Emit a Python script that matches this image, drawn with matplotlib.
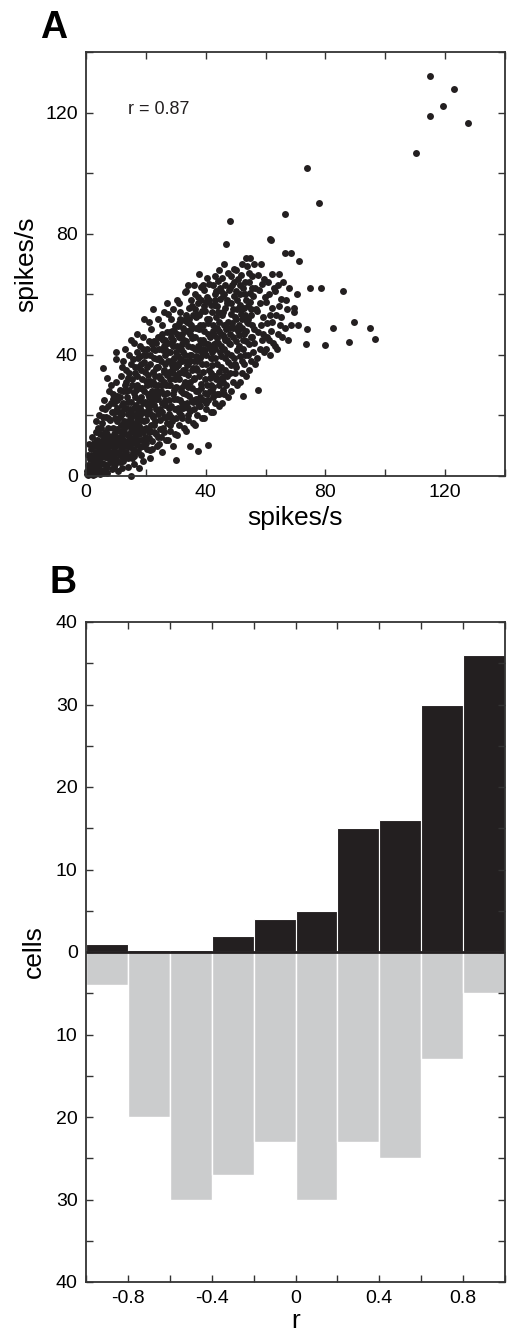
import matplotlib
matplotlib.use("Agg")
import matplotlib.pyplot as plt
from matplotlib.ticker import MultipleLocator, FuncFormatter

plt.rcParams['font.family'] = ['Liberation Sans', 'DejaVu Sans']

# Panel A: firing rate pairs (spikes/s)
cloud_pts = [
    (0.5, 0.5), (1, 2), (1.5, 0.8), (0.8, 3.5), (2, 1.5), (2.5, 4), (1.2, 5.5), (2.8, 2.5), (0.6, 7), (2.2, 6.8),
    (3, 0.6), (1.8, 9), (3.2, 8), (0.9, 10.5), (2.6, 11),
    (3.5, 1.2), (4, 3), (4.5, 5.5), (3.8, 7), (5, 2), (5.5, 4.2), (4.2, 9.5), (5.8, 7.5), (3.6, 12), (5, 11.5),
    (4.6, 14), (5.9, 13), (3.9, 16), (5.3, 17.5), (4.4, 20), (5.8, 35.7), (5.6, 19.5), (4.8, 0.5), (3.3, 14.5), (5.2, 22.5),
    (6.2, 1.5), (7, 3.5), (7.5, 6), (6.5, 8.5), (8.2, 4.5), (8.8, 8), (6.8, 11.5), (7.8, 10), (8.5, 13), (6.3, 14.5),
    (7.2, 16), (8, 18.5), (6.6, 19.5), (8.7, 21), (7.4, 23), (6.1, 25), (8.9, 25.5), (7.7, 28), (8.3, 30), (6.9, 1),
    (8.6, 2.2), (7.1, 32.5),
    (9.3, 3), (10, 5.5), (10.8, 8), (11.5, 4.5), (9.6, 10), (11, 12.5), (11.8, 9.5), (9.2, 14), (10.4, 15.5), (11.6, 17),
    (9.8, 19), (10.9, 21), (11.9, 23.5), (9.4, 24), (10.5, 26.5), (11.3, 28.5), (9.9, 31), (11.7, 33), (10, 40.8), (10, 38.5),
    (12, 36), (9.5, 7), (10.6, 1.5), (11.2, 19.5), (10.2, 22.5), (9.1, 27),
    (12.4, 5), (13, 7.5), (13.8, 10), (14.6, 6.5), (12.2, 12), (13.3, 14), (14.3, 16.5), (12.7, 18), (13.9, 20.5), (14.8, 22),
    (12.5, 24), (13.6, 26), (14.5, 28.5), (12.9, 30), (14.1, 32.5), (13.2, 35), (14.9, 37), (12.3, 38), (15, 0), (14, 3),
    (13.5, 22.5), (12.8, 15.5), (14.7, 12.5), (13.4, 28), (12.1, 9), (14.4, 40),
    (15.3, 6), (16, 9), (16.8, 12), (17.5, 8), (15.6, 14.5), (16.4, 17), (17.3, 19.5), (15.2, 21), (16.7, 23.5), (17.7, 25),
    (15.9, 27.5), (17, 30), (15.4, 32), (16.3, 34), (17.4, 36), (15.8, 38.5), (16.9, 41), (17.9, 43), (16.1, 4), (17.8, 14),
    (15.5, 11), (16.6, 28.5), (17.2, 33), (15.1, 24.5), (16.5, 20), (17.6, 2.5), (16.2, 44),
    (18.3, 7), (19, 10), (19.8, 13), (20.5, 9), (18.6, 15.5), (19.4, 18), (20.3, 20.5), (18.2, 22.5), (19.7, 24.5), (20.8, 27),
    (18.8, 29), (19.9, 31.5), (20.6, 33.5), (18.4, 35), (19.3, 37.5), (20.2, 40), (18.9, 42), (20.9, 44.5), (19.4, 52), (19.2, 5),
    (20.1, 16), (18.5, 26), (20.7, 23), (19.6, 34.5), (18.1, 39.5), (21, 14.5), (20.4, 30),
    (21.3, 8.5), (22, 11.5), (22.8, 14.5), (23.6, 10), (21.6, 17), (22.5, 19.5), (23.3, 22), (21.2, 24), (22.2, 26.5), (23.8, 28),
    (21.8, 30.5), (22.9, 33), (23.5, 35.5), (21.4, 37), (22.6, 39), (23.2, 41.5), (21.9, 43.5), (23.9, 46), (22.3, 55), (21.5, 6),
    (23, 18), (22.4, 31), (23.7, 38.5), (21.1, 21), (22.7, 44.5), (23.4, 25.5), (21.7, 48.5),
    (24.3, 10.5), (25, 13), (25.8, 16), (26.6, 12), (24.6, 18.5), (25.5, 21), (26.3, 23.5), (24.2, 25.5), (25.2, 28), (26.8, 30),
    (24.8, 32.5), (25.9, 34.5), (26.5, 37), (24.4, 39), (25.6, 41.5), (26.2, 43), (24.9, 45.5), (26.9, 47.5), (25.3, 50), (24.1, 36),
    (26, 27), (25.4, 8), (26.7, 19.5), (24.7, 22), (25.7, 45), (26.4, 40),
    (27.3, 12), (28, 15), (28.8, 18), (29.6, 14), (27.6, 20.5), (28.5, 23), (29.3, 25.5), (27.2, 27.5), (28.2, 30), (29.8, 32),
    (27.8, 34.5), (28.9, 36.5), (29.5, 39), (27.4, 41), (28.6, 43.5), (29.2, 45), (27.9, 47.5), (29.9, 49.5), (28.3, 52), (27.1, 57),
    (30, 5.4), (29, 10), (28.4, 38), (27.7, 25), (29.4, 28.5), (28.7, 48), (27.5, 53.5),
    (30.3, 13.5), (31, 17), (31.8, 20), (32.6, 16), (30.6, 22.5), (31.5, 25), (32.3, 27.5), (30.2, 29.5), (31.2, 32), (32.8, 34),
    (30.8, 36.5), (31.9, 38.5), (32.5, 41), (30.4, 43), (31.6, 45.5), (32.2, 47), (30.9, 49.5), (32.9, 51.5), (31.3, 54), (33, 60.8),
    (30.5, 58), (31.7, 29), (32.1, 43.5), (30.7, 39.5), (32.4, 22.5), (31.1, 50.5),
    (33.3, 15), (34, 18.5), (34.8, 21.5), (35.6, 17.5), (33.6, 24), (34.5, 26.5), (35.3, 29), (33.2, 31), (34.2, 33.5), (35.8, 35.5),
    (33.8, 38), (34.9, 40), (35.5, 42.5), (33.4, 44.5), (34.6, 47), (35.2, 48.5), (33.9, 51), (35.9, 53), (34.3, 55.5), (34.6, 9.8),
    (35, 58), (33.5, 61), (35.4, 45.5), (34.1, 29.5), (33.7, 36.5), (35.7, 24.5), (34.4, 50.5),
    (36.3, 17), (37, 20), (37.8, 23), (38.6, 19), (36.6, 25.5), (37.5, 28), (38.3, 30.5), (36.2, 32.5), (37.2, 35), (38.8, 37),
    (36.8, 39.5), (37.9, 41.5), (38.5, 44), (36.4, 46), (37.6, 48.5), (38.2, 50), (36.9, 52.5), (38.9, 54.5), (37.3, 57), (37.8, 66.6),
    (37.3, 8.2), (36.5, 60), (38.4, 62.5), (37.4, 43), (36.7, 35.5), (38.1, 26), (37.1, 53.5),
    (39.3, 19), (40, 22), (40.8, 25), (41.6, 21), (39.6, 27.5), (40.5, 30), (41.3, 32.5), (39.2, 34.5), (40.2, 37), (41.8, 39),
    (39.8, 41.5), (40.9, 43.5), (41.5, 46), (39.4, 48), (40.6, 50.5), (41.2, 52), (39.9, 54.5), (41.9, 56.5), (40.3, 59), (39.5, 61.5),
    (41, 63.5), (40.7, 10.4), (40.4, 65.5), (39.1, 45), (41.4, 28), (40.1, 57.5), (41.7, 34),
    (42.3, 21), (43, 24), (43.8, 27), (44.6, 23), (42.6, 29.5), (43.5, 32), (44.3, 34.5), (42.2, 36.5), (43.2, 39), (44.8, 41),
    (42.8, 43.5), (43.9, 45.5), (44.5, 48), (42.4, 50), (43.6, 52.5), (44.2, 54), (42.9, 56.5), (44.9, 58.5), (43.3, 61), (42.5, 63),
    (44, 64.5), (43.7, 49), (42.1, 41), (44.4, 30), (43.1, 58), (42.7, 46.5),
    (45.3, 24), (46, 27), (46.8, 30), (47.6, 26), (45.6, 32.5), (46.5, 35), (47.3, 37.5), (45.2, 39.5), (46.2, 42), (47.8, 44),
    (45.8, 46.5), (46.9, 48.5), (47.5, 51), (45.4, 53), (46.6, 55.5), (47.2, 57), (45.9, 59.5), (47.9, 61.5), (46.3, 63), (45.5, 65.5),
    (46.8, 76.7), (47.4, 67), (46.1, 50), (47, 40.5), (45.7, 28.5),
    (48.3, 28), (49, 31), (49.8, 34), (50.6, 30), (48.6, 36.5), (49.5, 39), (50.3, 41.5), (48.2, 43.5), (49.2, 46), (50.8, 48),
    (48.8, 50.5), (49.9, 52.5), (50.5, 55), (48.4, 57), (49.6, 59.5), (50.2, 61), (48.9, 63), (50.9, 65), (48.1, 84.1), (49.3, 68.5),
    (50, 44.5), (48.5, 53.5), (49.7, 37),
    (51.3, 31), (52, 34), (52.8, 37), (53.6, 33), (51.6, 39.5), (52.5, 42), (53.3, 44.5), (51.2, 46.5), (52.2, 49), (53.8, 51),
    (51.8, 53.5), (52.9, 55.5), (53.5, 58), (51.4, 60), (52.6, 62), (53.2, 64), (51.9, 66.5), (52.4, 26.5), (53.9, 69.5), (52.7, 47),
    (51.5, 56.5), (53, 40),
    (54.3, 35), (55, 38), (55.8, 41), (56.6, 37), (54.6, 43.5), (55.5, 46), (56.3, 48.5), (54.2, 50.5), (55.2, 53), (56.8, 55),
    (54.8, 57.5), (55.9, 59.5), (56.5, 62), (54.4, 64), (55.6, 66), (56.2, 70), (54.9, 72), (55.3, 50), (56, 44), (54.7, 60.5),
    (57.3, 39), (58, 42), (58.8, 45), (59.6, 41), (57.6, 47.5), (58.5, 50), (59.3, 52.5), (57.2, 54.5), (58.2, 57), (59.8, 59),
    (57.8, 61.5), (58.9, 63.5), (59.5, 65), (57.6, 28.5), (58.4, 70), (57.5, 66.5), (59.1, 47),
    (60.3, 42), (61, 45), (61.8, 48), (62.6, 44), (60.6, 50.5), (61.5, 53), (62.3, 55.5), (60.2, 57.5), (61.2, 60), (62.8, 62),
    (60.8, 64), (62, 66.6), (60.5, 46), (62.2, 51), (61.6, 40),
    (63.3, 43), (64, 47), (64.8, 50), (65.6, 46), (63.6, 53), (64.5, 56), (65.3, 58.5), (63.2, 61), (64.2, 63), (65.8, 64),
    (64.4, 66.6), (63.8, 42), (65, 52.5),
    (67, 55), (68.6, 49.8), (69.4, 55.6), (69.6, 54), (67.5, 45), (66.8, 58), (67.8, 62), (66.5, 49),
]

core_pts = [
    (1.5, 3), (2.4, 0.3), (3.4, 4.5), (4.2, 1.8), (5.2, 6.5), (6, 4), (6.9, 9), (7.6, 13), (8.4, 10.5), (9, 16),
    (9.7, 12.5), (10.3, 18), (11, 15), (11.4, 7), (12, 20.5), (12.6, 22), (13.1, 17), (13.7, 11.5), (14.2, 24.5), (14.9, 19),
    (15.4, 17.5), (15.9, 22.5), (16.4, 26), (16.9, 15), (17.4, 21.5), (17.9, 29), (18.3, 18.5), (18.7, 32), (19.1, 24), (19.5, 28),
    (20, 21), (20.5, 36), (21, 26), (21.4, 31.5), (21.9, 28), (22.3, 34.5), (22.8, 23.5), (23.2, 30), (23.7, 36), (24, 27),
    (24.5, 33), (25, 38), (25.5, 30), (26, 35), (26.4, 42), (26.9, 33.5), (27.3, 38), (27.8, 30), (28.2, 41), (28.7, 35),
    (29.1, 43), (29.6, 37), (30, 41), (30.5, 33), (31, 46), (31.4, 38), (31.9, 42), (32.3, 35), (32.7, 45), (33.1, 40),
    (33.6, 48), (34, 43), (34.5, 38), (35, 50), (35.4, 35), (35.9, 46), (36.3, 42), (36.8, 49), (37.2, 38), (37.7, 53),
    (38.1, 45), (38.6, 40), (39, 50), (39.4, 56), (39.9, 44), (40.3, 52), (40.8, 47), (41.2, 58), (41.7, 42), (42.1, 54),
    (42.6, 48), (43, 60), (43.4, 44), (43.9, 56), (44.3, 51), (44.8, 62), (45.2, 47), (45.7, 54), (46.1, 60), (46.6, 45),
    (47, 58), (47.5, 49), (48, 62), (48.5, 40), (49, 55), (49.5, 64), (50, 49), (50.5, 58), (51, 43), (51.5, 63),
    (52, 52), (52.5, 45), (53, 60), (53.5, 48), (54, 56), (54.5, 67), (55, 46), (55.5, 62),
    (0.3, 1.5), (0.7, 0.2), (1.1, 1), (1.6, 2.2), (2, 3.2), (2.3, 5.2), (2.9, 6), (3.3, 3), (3.7, 2), (4.1, 5),
    (4.6, 3.8), (4.9, 8.2), (5.4, 9), (5.7, 1), (6.3, 6.2), (6.7, 2.8), (7.3, 7.5), (7.9, 5.5), (8.5, 6.5), (9.2, 8.5),
    (9.8, 4), (10.4, 11), (11, 10.2), (11.6, 13), (12.2, 6), (12.9, 10.5), (13.5, 8), (14.1, 13.5), (14.6, 9.5), (15.2, 12.5),
    (15.8, 8), (16.5, 13), (17.1, 10.5), (17.7, 16.5), (18.4, 12), (19, 14.5), (19.6, 11), (20.2, 18.5), (20.9, 12.5), (21.5, 15),
    (22.1, 20), (22.7, 17), (23.4, 14), (24, 20.5), (24.6, 15.5), (25.3, 24), (25.9, 19.5), (26.5, 25), (27, 17.5), (27.7, 22.5),
    (28.4, 19.5), (29, 27), (29.7, 22), (30.3, 25.5), (31, 21), (31.6, 28), (32.2, 24), (32.8, 30), (33.5, 27), (34.1, 22.5),
    (34.7, 31), (35.3, 25), (36, 32), (36.6, 28), (37.3, 24), (37.9, 33), (38.5, 29), (39.2, 25), (39.8, 32), (40.5, 27),
    (41.1, 35), (41.8, 30), (42.4, 26), (43.1, 33), (43.7, 37), (44.4, 27), (45, 36), (45.8, 31), (46.5, 39), (47.2, 33),
]

fill_pts = [
    (3, 10), (4.5, 11), (6, 10.5), (7, 14), (8, 12), (9, 11), (10, 13), (11.5, 11), (12.5, 14), (14, 18),
    (15, 15), (16, 16), (17, 18), (18, 20), (19, 21), (20, 24), (21, 22), (22, 25), (23, 27), (24, 30),
    (25, 32), (26, 31), (27, 34), (28, 32), (29, 34), (30, 36), (31, 34), (32, 38), (33, 35), (34, 37),
    (35, 40), (36, 38), (37, 42), (38, 39), (39, 42), (40, 40), (41, 43), (42, 39), (43, 42), (44, 44),
    (45, 43), (46, 46), (47, 45), (48, 47), (49, 49), (50, 52), (51, 50), (52, 55), (53, 53), (54, 52), (55, 55),
    (2, 13), (3.5, 18), (5, 16), (6.5, 22), (7.5, 19), (8.5, 24), (9.5, 21), (10.5, 25), (11.5, 26), (12.5, 28),
    (13.5, 31), (14.5, 34), (15.5, 30), (16.5, 36), (17.5, 39), (18.5, 37), (19.5, 40), (20.5, 42), (21.5, 40), (22.5, 42),
    (23.5, 44), (24.5, 42), (25.5, 47), (26.5, 45), (27.5, 44), (28.5, 46), (29.5, 48), (30.5, 47), (31.5, 52), (32.5, 49),
    (33.5, 53), (34.5, 52), (35.5, 56), (36.5, 55), (37.5, 59), (38.5, 58),
    (12, 2.5), (14, 6), (16, 6.5), (18, 9.5), (20, 11), (22, 9), (24, 13), (26, 14.5), (28, 17), (30, 19),
    (32, 19), (34, 20), (36, 22), (38, 23), (40, 24), (42, 28), (44, 32), (46, 33), (48, 34), (50, 36),
    (52, 38), (54, 40),
    (13, 42), (15, 45), (17, 47), (19, 46), (21, 51), (24, 52), (26, 54), (29, 55), (31, 57), (34, 63),
    (36, 63), (39, 63), (43, 66), (45, 61), (48.5, 66), (50, 68), (52, 70), (53.5, 72), (46, 70), (44.5, 68),
]

outlier_pts = [
    (66.6, 73.5), (68.6, 73.5), (71.3, 71), (73.9, 101.6), (78, 90.1), (66.6, 86.5), (61.6, 78.2), (61.7, 78),
    (74.7, 62), (78.6, 62), (85.8, 61.2), (89.4, 51), (82.6, 48.9), (73.9, 48.5), (94.9, 48.9), (96.4, 45.3),
    (87.8, 44.1), (80, 43.2), (73.4, 43.7), (71, 50), (70.5, 60),
    (110.4, 106.5), (115, 132.2), (122.8, 127.7), (119.4, 122.1), (115, 118.8), (127.7, 116.4),
]

r_value = 0.87

# Panel B: histogram of r, bins of 0.2
r_centers = [-0.9, -0.7, -0.5, -0.3, -0.1, 0.1, 0.3, 0.5, 0.7, 0.9]
cells_black = [1, 0.3, 0.3, 2, 4, 5, 15, 16, 30, 36]
cells_gray = [4, 20, 30, 27, 23, 30, 23, 25, 13, 5]

dark = '#231f20'
gray = '#cbcccd'

fig = plt.figure(figsize=(5.07, 13.36), dpi=100)

# ---- A ----
ax1 = fig.add_axes([86 / 507, 1 - 476 / 1336, 419 / 507, 424 / 1336])
pts = cloud_pts + core_pts + fill_pts + outlier_pts
xs = [p[0] for p in pts]
ys = [p[1] for p in pts]
ax1.plot(xs, ys, 'o', ms=5.0, color=dark, mec='none', clip_on=False)
ax1.set_xlim(0, 140)
ax1.set_ylim(0, 140)
ax1.xaxis.set_minor_locator(MultipleLocator(20))
ax1.yaxis.set_minor_locator(MultipleLocator(20))
ax1.set_xticks([0, 40, 80, 120])
ax1.set_yticks([0, 40, 80, 120])
ax1.text(14, 121, 'r = %.2f' % r_value, fontsize=13, va='center', ha='left', color=dark)
ax1.set_xlabel('spikes/s', fontsize=19, labelpad=3)
ax1.set_ylabel('spikes/s', fontsize=19, labelpad=5)

# ---- B ----
ax2 = fig.add_axes([86 / 507, 1 - 1282 / 1336, 419 / 507, 660 / 1336])
ax2.bar(r_centers, cells_black, width=0.2, color=dark, edgecolor='white', linewidth=0.8)
ax2.bar(r_centers, [-v for v in cells_gray], width=0.2, color=gray, edgecolor='white', linewidth=1.0)
ax2.axhline(0, color=dark, lw=2.0)
ax2.set_xlim(-1, 1)
ax2.set_ylim(-40, 40)
ax2.set_xticks([-0.8, -0.4, 0, 0.4, 0.8])
ax2.set_xticklabels(['-0.8', '-0.4', '0', '0.4', '0.8'])
ax2.xaxis.set_minor_locator(MultipleLocator(0.2))
ax2.yaxis.set_major_locator(MultipleLocator(10))
ax2.yaxis.set_minor_locator(MultipleLocator(5))
ax2.yaxis.set_major_formatter(FuncFormatter(lambda v, p: '%d' % abs(v)))
ax2.set_xlabel('r', fontsize=19, labelpad=1)
ax2.set_ylabel('cells', fontsize=19, labelpad=7)

for ax in (ax1, ax2):
    for s in ax.spines.values():
        s.set_linewidth(1.3)
        s.set_color('#333333')
    ax.tick_params(which='both', direction='in', top=True, right=True,
                   length=5, width=1.0, color='#333333', labelsize=14, pad=6)

fig.text(40 / 507, 1 - 28 / 1336, 'A', fontsize=27, fontweight='bold', va='center', ha='left')
fig.text(50 / 507, 1 - 583 / 1336, 'B', fontsize=27, fontweight='bold', va='center', ha='left')

fig.savefig('out.png', dpi=100)
